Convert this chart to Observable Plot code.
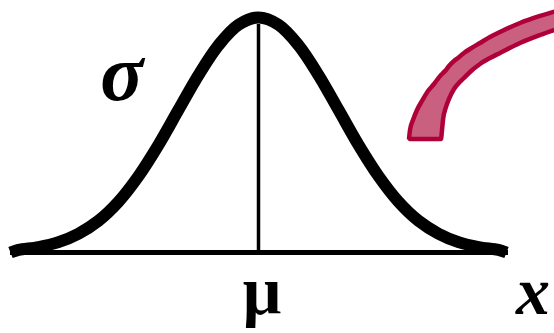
<!DOCTYPE html>
<html>
<head>
<meta charset="utf-8">
<script src="https://cdn.jsdelivr.net/npm/d3@7"></script>
<script src="https://cdn.jsdelivr.net/npm/@observablehq/plot@0.6"></script>
<style>
  html, body { margin: 0; padding: 0; background: #ffffff; overflow: hidden; }
  #chart svg { display: block; }
</style>
</head>
<body>
<div id="chart"></div>
<script>
// Normal curve, x in units of sigma from mu, height relative to the peak
const curveZ = [-3.1, -3, -2.75, -2.5, -2.25, -2, -1.75, -1.5, -1.25, -1, -0.75, -0.5, -0.25, 0,
                0.25, 0.5, 0.75, 1, 1.25, 1.5, 1.75, 2, 2.25, 2.5, 2.75, 3, 3.1];
const curveH = [0, 0.011, 0.023, 0.044, 0.080, 0.135, 0.216, 0.325, 0.458, 0.607, 0.755, 0.882, 0.969, 1,
                0.969, 0.882, 0.755, 0.607, 0.458, 0.325, 0.216, 0.135, 0.080, 0.044, 0.023, 0.011, 0];

// Baseline extent and the mean line
const baseExtent = [-3.1, 3.125];
const meanLineTop = 0.97;

// Curved band (decorative arrow body) at the top right
const bandX     = [1.8875, 1.9, 1.9375, 1.9875, 2.05, 2.125, 2.2, 2.2875, 2.3, 2.3125, 2.35, 2.3875, 2.45, 2.5,
                   2.575, 2.65, 2.775, 2.9, 3.025, 3.275, 3.525, 3.775];
const bandOuter = [0.4809, 0.5191, 0.5617, 0.6043, 0.6426, 0.6851, 0.7149, 0.7532, 0.7574, 0.7617, 0.7745,
                   0.7915, 0.8128, 0.8255, 0.8468, 0.8638, 0.8894, 0.9149, 0.9362, 0.9745, 1.0043, 1.0298];
const bandInner = [0.4809, 0.4809, 0.4809, 0.4809, 0.4809, 0.4809, 0.4809, 0.4809, 0.5191, 0.5617, 0.617,
                   0.6511, 0.6936, 0.7149, 0.7404, 0.766, 0.8, 0.8255, 0.8468, 0.8894, 0.9234, 0.9532];

// Labels
const labelText = ["σ", "μ", "x"];
const labelX = [-1.71, 0.044, 3.431];
const labelY = [0.6468, -0.2638, -0.2596];
const labelStyle = ["italic", "normal", "italic"];
const labelSize = [80, 68, 68];

const curve = curveZ.map((z, i) => ({z, h: curveH[i]}));
const band = bandX.map((x, i) => ({x, y1: bandInner[i], y2: bandOuter[i]}));
const labels = labelText.map((t, i) => ({t, x: labelX[i], y: labelY[i], s: labelStyle[i], size: labelSize[i]}));

const font = "'Liberation Serif', 'Times New Roman', serif";

const textMarks = labels.map(d => Plot.text([d], {x: "x", y: "y", text: "t", textAnchor: "middle",
  lineAnchor: "bottom", fontSize: d.size, fontWeight: "bold", fontStyle: d.s, fontFamily: font, fill: "#000"}));

const chart = Plot.plot({
  width: 554,
  height: 333,
  margin: 0,
  x: {domain: [-3.225, 3.7], axis: null},
  y: {domain: [-0.3447, 1.0723], axis: null},
  style: {background: "#ffffff", overflow: "hidden"},
  marks: [
    Plot.areaY(band, {x: "x", y1: "y1", y2: "y2", curve: "monotone-x",
      fill: "#c9607f", stroke: "#b0003a", strokeWidth: 4.5, strokeLinejoin: "miter"}),
    Plot.ruleY([0], {x1: baseExtent[0], x2: baseExtent[1], stroke: "#000", strokeWidth: 5}),
    Plot.ruleX([0], {y1: 0, y2: meanLineTop, stroke: "#000", strokeWidth: 3.5}),
    Plot.line(curve, {x: "z", y: "h", curve: "catmull-rom", stroke: "#000", strokeWidth: 12,
      strokeLinecap: "butt", strokeLinejoin: "round"}),
    ...textMarks
  ]
});
document.getElementById("chart").appendChild(chart);
</script>
</body>
</html>
